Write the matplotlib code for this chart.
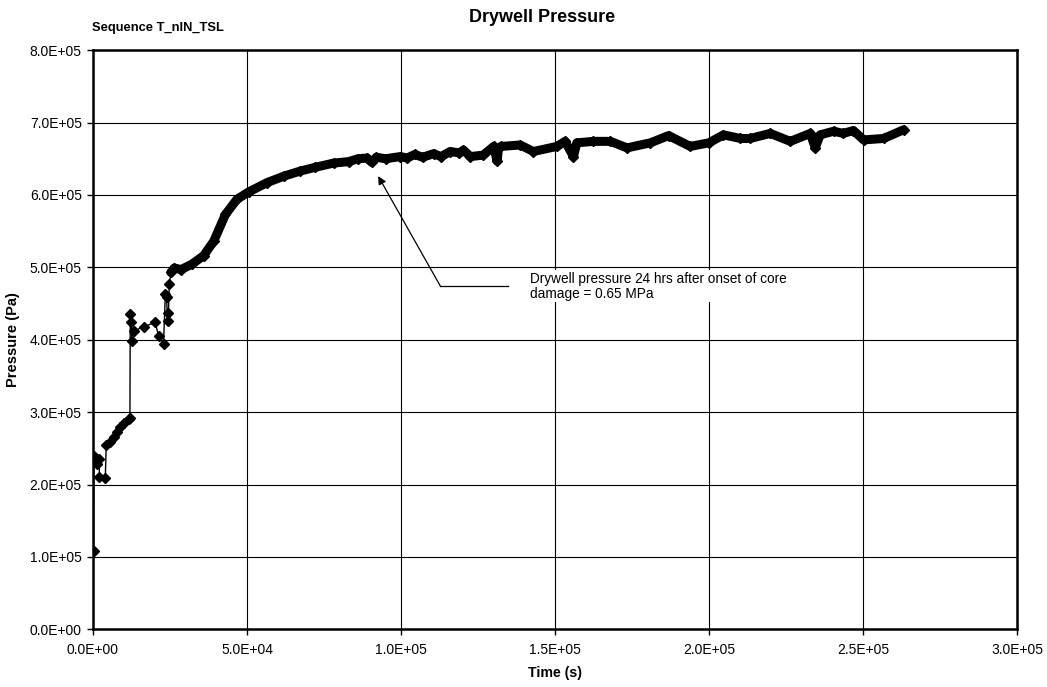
import numpy as np
import matplotlib.pyplot as plt
from matplotlib.ticker import FuncFormatter, MultipleLocator

plt.rcParams['font.family'] = ['Liberation Sans', 'DejaVu Sans']

# time (s) and drywell pressure (Pa), sequence T_nIN_TSL
time_s = [200, 300, 1300, 2000, 2100, 4000, 4300, 5500, 6700, 7800,
          8900, 10200, 11560, 12000, 12100, 12300, 12700, 13200, 16500, 20200,
          21300, 22900, 23500, 23900, 24200, 24500, 24800, 25300, 26400, 28600,
          32000, 35900, 39200, 43000, 46750, 50500, 56500, 62000, 67300, 72000,
          78100, 83000, 86000, 89000, 90500, 92000, 95000, 99800, 102000, 104500,
          107000, 110600, 113000, 116000, 119000, 120300, 122500, 126700, 130100, 131200,
          131700, 132500, 138700, 143000, 150600, 153300, 156000, 157100, 162500, 168000,
          173400, 181000, 186900, 193900, 200000, 204700, 210200, 213400, 219900, 226400,
          232900, 234500, 236100, 240500, 243600, 246900, 250200, 256700, 263200]
pressure_pa = [1.08e5, 2.40e5, 2.29e5, 2.35e5, 2.10e5, 2.09e5, 2.54e5, 2.59e5, 2.65e5, 2.72e5,
               2.79e5, 2.85e5, 2.91e5, 2.92e5, 4.35e5, 4.24e5, 3.98e5, 4.12e5, 4.18e5, 4.24e5,
               4.05e5, 3.94e5, 4.63e5, 4.59e5, 4.26e5, 4.37e5, 4.77e5, 4.93e5, 4.99e5, 4.97e5,
               5.04e5, 5.16e5, 5.36e5, 5.73e5, 5.94e5, 6.04e5, 6.17e5, 6.26e5, 6.33e5, 6.38e5,
               6.44e5, 6.46e5, 6.50e5, 6.51e5, 6.45e5, 6.52e5, 6.50e5, 6.53e5, 6.51e5, 6.56e5,
               6.52e5, 6.57e5, 6.53e5, 6.60e5, 6.58e5, 6.62e5, 6.53e5, 6.55e5, 6.67e5, 6.47e5,
               6.65e5, 6.67e5, 6.69e5, 6.60e5, 6.67e5, 6.74e5, 6.53e5, 6.72e5, 6.74e5, 6.74e5,
               6.65e5, 6.72e5, 6.82e5, 6.67e5, 6.72e5, 6.83e5, 6.78e5, 6.78e5, 6.85e5, 6.74e5,
               6.85e5, 6.65e5, 6.83e5, 6.88e5, 6.85e5, 6.89e5, 6.76e5, 6.78e5, 6.90e5]

t = np.array(time_s)
p = np.array(pressure_pa)
dense = t >= 25300  # output interval is short here, so markers merge into a band

fig = plt.figure(figsize=(10.47, 6.87), dpi=100)
ax = fig.add_axes([0.0888, 0.084, 0.8825, 0.843])

ax.plot(t, p, color='k', lw=1.0, marker='D', ms=5.5, zorder=3)
ax.plot(t[dense], p[dense], color='k', lw=6.5, solid_joinstyle='round',
        solid_capstyle='round', zorder=3)

ax.set_xlim(0, 3.0e5)
ax.set_ylim(0, 8.0e5)
ax.xaxis.set_major_locator(MultipleLocator(5.0e4))
ax.yaxis.set_major_locator(MultipleLocator(1.0e5))
fmt = FuncFormatter(lambda v, pos: f'{v:.1E}')
ax.xaxis.set_major_formatter(fmt)
ax.yaxis.set_major_formatter(fmt)
ax.tick_params(direction='out', length=4, width=1, labelsize=10, colors='k')
ax.tick_params(axis='x', pad=6)
ax.tick_params(axis='y', pad=4)
ax.grid(True, color='k', lw=0.8)
for s in ax.spines.values():
    s.set_linewidth(1.8)

ax.set_xlabel('Time (s)', fontsize=10.2, fontweight='bold', labelpad=6)
ax.set_ylabel('Pressure (Pa)', fontsize=10.5, fontweight='bold', labelpad=7)
fig.text(0.518, 0.975, 'Drywell Pressure', fontsize=13, fontweight='bold',
         ha='center', va='center')
fig.text(0.088, 0.959, 'Sequence T_nIN_TSL', fontsize=9.3, fontweight='bold',
         va='center')

# callout: leader line with an elbow pointing at the 24 h value
ax.plot([1.128e5, 1.348e5], [4.74e5, 4.74e5], color='k', lw=0.9)
ax.annotate('', xy=(0.926e5, 6.26e5), xytext=(1.128e5, 4.74e5),
            arrowprops=dict(arrowstyle='-|>', color='k', lw=0.9,
                            mutation_scale=12, shrinkA=0, shrinkB=0))
ax.text(1.42e5, 4.74e5, 'Drywell pressure 24 hrs after onset of core\ndamage = 0.65 MPa',
        fontsize=9.8, va='center', ha='left', linespacing=1.1,
        bbox=dict(facecolor='white', edgecolor='none', pad=1))

fig.savefig('out.png', dpi=100)
